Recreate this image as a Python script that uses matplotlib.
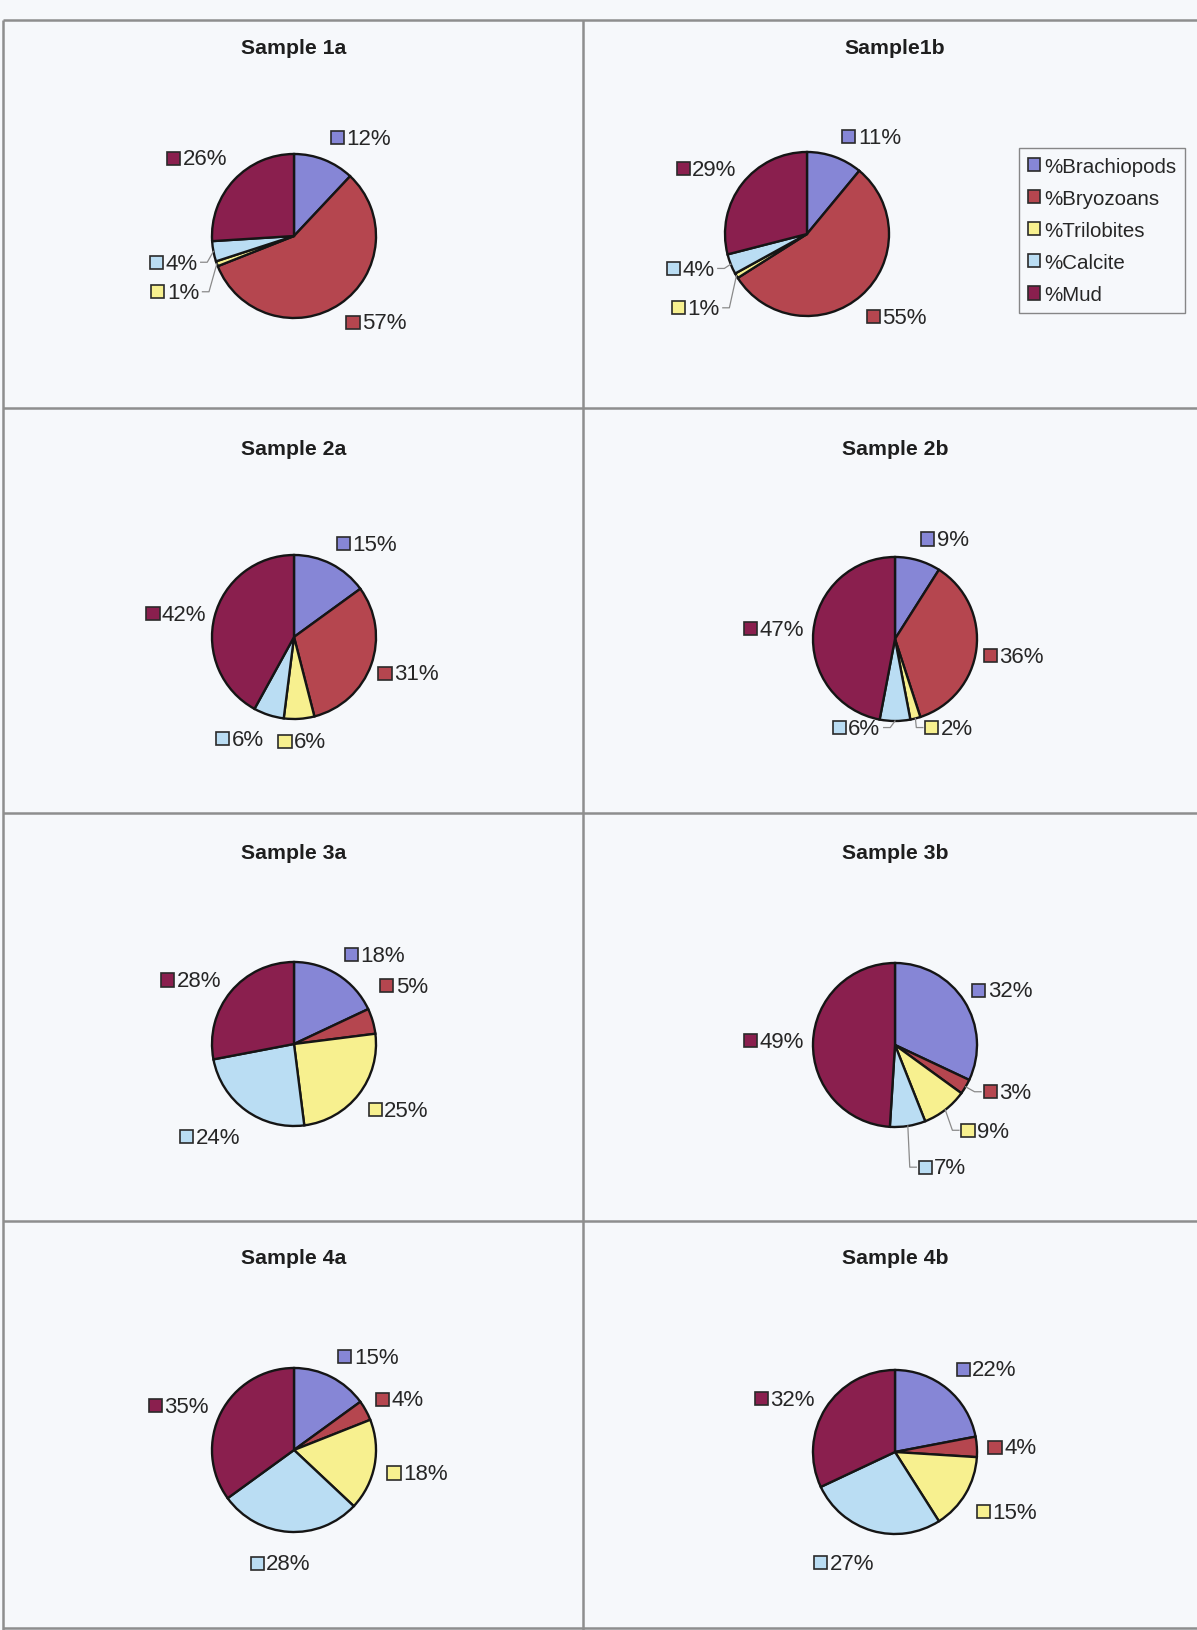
import matplotlib
matplotlib.use('Agg')
import numpy as np
import matplotlib.pyplot as plt
from matplotlib.patches import Rectangle, Patch

plt.rcParams['font.family'] = ['Liberation Sans', 'DejaVu Sans']

# components of each thin section, in percent
categories = ['%Brachiopods', '%Bryozoans', '%Trilobites', '%Calcite', '%Mud']
colors = ['#8686D6', '#B5464F', '#F7F08F', '#BADDF3', '#8A1F4E']

titles = ['Sample 1a', 'Sample1b', 'Sample 2a', 'Sample 2b',
          'Sample 3a', 'Sample 3b', 'Sample 4a', 'Sample 4b']
s1a = [12, 57, 1, 4, 26]
s1b = [11, 55, 1, 4, 29]
s2a = [15, 31, 6, 6, 42]
s2b = [9, 36, 2, 6, 47]
s3a = [18, 5, 25, 24, 28]
s3b = [32, 3, 9, 7, 49]
s4a = [15, 4, 18, 28, 35]
s4b = [22, 4, 15, 27, 32]
samples = [s1a, s1b, s2a, s2b, s3a, s3b, s4a, s4b]

# ---- layout (pixels, origin top-left) ----
W, H = 1197, 1631
R = 82
pie_centres = [(294, 237), (807, 235), (294, 638), (895, 640),
               (294, 1045), (895, 1046), (294, 1451), (895, 1453)]
title_pos = [(294, 48), (895, 48), (294, 450), (895, 450),
             (294, 854), (895, 854), (294, 1259), (895, 1259)]

# label square positions (left edge, middle) in pie-radius units
label_xy = [
    [(0.45, 1.20), (0.64, -1.05), (-1.74, -0.68), (-1.76, -0.32), (-1.55, 0.95)],
    [(0.43, 1.19), (0.73, -1.01), (-1.65, -0.90), (-1.71, -0.42), (-1.59, 0.80)],
    [(0.52, 1.14), (1.03, -0.44), (-0.19, -1.27), (-0.95, -1.24), (-1.80, 0.29)],
    [(0.32, 1.22), (1.08, -0.20), (0.37, -1.08), (-0.76, -1.08), (-1.84, 0.13)],
    [(0.62, 1.09), (1.05, 0.71), (0.91, -0.80), (-1.39, -1.13), (-1.62, 0.78)],
    [(0.94, 0.67), (1.08, -0.57), (0.81, -1.04), (0.29, -1.49), (-1.84, 0.05)],
    [(0.54, 1.14), (1.00, 0.62), (1.14, -0.28), (-0.53, -1.38), (-1.77, 0.54)],
    [(0.75, 1.01), (1.14, 0.06), (1.00, -0.73), (-0.99, -1.35), (-1.71, 0.65)],
]
# labels that were pulled away from their slice get a leader line
leaders = {(0, 2), (0, 3), (1, 2), (1, 3), (3, 2), (3, 3), (5, 1), (5, 2), (5, 3)}

BG = '#F6F8FB'
fig = plt.figure(figsize=(W / 100, H / 100), dpi=100)
fig.patch.set_facecolor(BG)

bg = fig.add_axes([0, 0, 1, 1])
bg.set_xlim(0, W)
bg.set_ylim(H, 0)
bg.axis('off')

# table grid
for y in [21, 409, 814, 1222, 1629]:
    bg.plot([3, W], [y, y], color='#8E8E8E', lw=1.8, solid_capstyle='butt')
for x in [3, 583]:
    bg.plot([x, x], [21, H], color='#8E8E8E', lw=1.8, solid_capstyle='butt')

for (tx, ty), t in zip(title_pos, titles):
    bg.text(tx, ty, t, ha='center', va='center', fontsize=15.3,
            fontweight='bold', color='#1E1E1E')

SQ = 0.16
pie_axes = []
texts = []
for i, vals in enumerate(samples):
    cx, cy = pie_centres[i]
    ax = fig.add_axes([(cx - 2 * R) / W, (H - cy - 2 * R) / H, 4 * R / W, 4 * R / H])
    ax.pie(vals, colors=colors, startangle=90, counterclock=False, radius=1,
           wedgeprops=dict(edgecolor='#151515', linewidth=1.7))
    ax.set_xlim(-2, 2)
    ax.set_ylim(-2, 2)
    ax.set_aspect('equal')
    ax.axis('off')
    pie_axes.append(ax)
    row = []
    for j, v in enumerate(vals):
        lx, ly = label_xy[i][j]
        ax.add_patch(Rectangle((lx, ly - SQ / 2), SQ, SQ, facecolor=colors[j],
                               edgecolor='#2A2A2A', lw=1.2, clip_on=False, zorder=5))
        t = ax.text(lx + SQ + 0.03, ly - 0.01, f'{v}%', fontsize=16, ha='left',
                    va='center', color='#262626', clip_on=False, zorder=5)
        row.append(t)
    texts.append(row)

# leader lines from the moved labels back to the slice edge
fig.canvas.draw()
renderer = fig.canvas.get_renderer()
for i, j in sorted(leaders):
    ax = pie_axes[i]
    vals = samples[i]
    frac = (sum(vals[:j]) + vals[j] / 2) / sum(vals)
    ang = np.deg2rad(90 - 360 * frac)
    px, py = np.cos(ang), np.sin(ang)
    lx, ly = label_xy[i][j]
    bb = texts[i][j].get_window_extent(renderer).transformed(ax.transData.inverted())
    if lx < 0 and lx + 0.5 < px:
        sx = bb.x1 + 0.04
        ex = sx + 0.08
    else:
        sx = lx - 0.03
        ex = sx - 0.08
    ax.plot([sx, ex, px], [ly, ly, py], color='#8A8A8A', lw=0.9, zorder=4,
            clip_on=False)

leg = fig.legend([Patch(facecolor=c, edgecolor='#2A2A2A', lw=1.2) for c in colors],
                 categories, loc='upper left',
                 bbox_to_anchor=(1019 / W, 1 - 149 / H),
                 frameon=True, fancybox=False, edgecolor='#6A6A6A', facecolor=BG,
                 fontsize=14.8, handlelength=0.6, handleheight=0.6,
                 handletextpad=0.22, labelspacing=0.64, borderpad=0.42,
                 borderaxespad=0)
leg.get_frame().set_linewidth(1.0)
for t in leg.get_texts():
    t.set_color('#262626')

fig.savefig('out.png', dpi=100, facecolor=BG)
